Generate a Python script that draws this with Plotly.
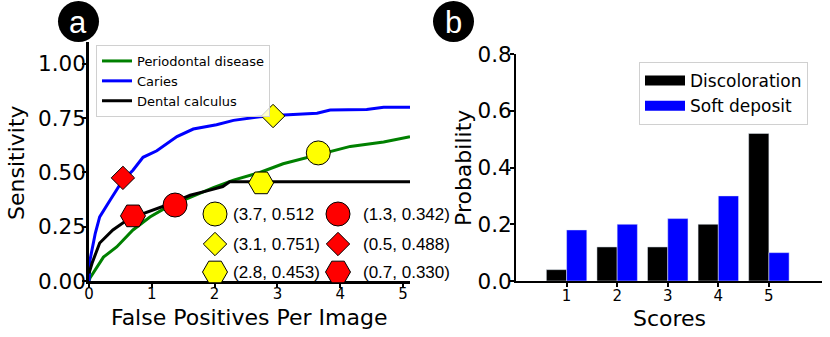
import plotly.graph_objects as go

W, H = 830, 337

# ---------------- data: panel a (FROC-like curves) ----------------
perio_x = [0.0, 0.016, 0.23, 0.44, 0.70, 0.97, 1.24, 1.56, 1.98, 2.30, 2.72, 3.09, 3.63, 4.16, 4.69, 5.11]
perio_y = [0.0, 0.014, 0.11, 0.157, 0.235, 0.295, 0.34, 0.38, 0.43, 0.465, 0.50, 0.54, 0.58, 0.62, 0.64, 0.665]

caries_x = [0.0, 0.016, 0.10, 0.17, 0.33, 0.54, 0.70, 0.86, 1.08, 1.40, 1.66, 2.03, 2.30, 2.72, 3.10, 3.63, 3.84, 4.42, 4.69, 5.11]
caries_y = [0.0, 0.097, 0.22, 0.295, 0.37, 0.465, 0.51, 0.57, 0.60, 0.665, 0.70, 0.72, 0.74, 0.757, 0.765, 0.773, 0.788, 0.79, 0.80, 0.80]

calc_x = [0.0, 0.05, 0.17, 0.38, 0.60, 0.86, 1.24, 1.61, 1.88, 2.13, 2.24, 5.11]
calc_y = [0.035, 0.083, 0.175, 0.235, 0.28, 0.31, 0.35, 0.395, 0.415, 0.435, 0.457, 0.457]

# operating points drawn on the curves
op_x = [3.65, 2.93, 2.74, 1.37, 0.54, 0.70]
op_y = [0.59, 0.76, 0.452, 0.35, 0.475, 0.30]
op_symbols = ["circle", "diamond", "hexagon2", "circle", "diamond", "hexagon2"]
op_colors = ["yellow", "yellow", "yellow", "red", "red", "red"]
op_labels = ["(3.7, 0.512", "(3.1, 0.751)", "(2.8, 0.453)", "(1.3, 0.342)", "(0.5, 0.488)", "(0.7, 0.330)"]

# ---------------- data: panel b ----------------
scores = [1, 2, 3, 4, 5]
discoloration = [0.04, 0.12, 0.12, 0.20, 0.52]
soft_deposit = [0.18, 0.20, 0.22, 0.30, 0.10]

left_yticks = [0, 0.25, 0.5, 0.75, 1.0]
left_xticks = [0, 1, 2, 3, 4, 5]
right_yticks = [0, 0.2, 0.4, 0.6, 0.8]

FONT = "DejaVu Sans"
ARIAL = "Liberation Sans, Arial"

def px(x):
    return x / W

def py(y):
    return 1 - y / H

size_map = {"circle": 24, "diamond": 18, "hexagon2": 25}

fig = go.Figure()

fig.add_trace(go.Scatter(x=perio_x, y=perio_y, mode="lines", name="Periodontal disease",
                         line=dict(color="#008000", width=3), xaxis="x", yaxis="y", legend="legend"))
fig.add_trace(go.Scatter(x=caries_x, y=caries_y, mode="lines", name="Caries",
                         line=dict(color="#0000ff", width=3), xaxis="x", yaxis="y", legend="legend"))
fig.add_trace(go.Scatter(x=calc_x, y=calc_y, mode="lines", name="Dental calculus",
                         line=dict(color="black", width=3), xaxis="x", yaxis="y", legend="legend"))
fig.add_trace(go.Scatter(x=op_x, y=op_y, mode="markers", showlegend=False,
                         marker=dict(symbol=op_symbols, color=op_colors, opacity=1,
                                     size=[size_map[s] for s in op_symbols],
                                     line=dict(color="black", width=1)),
                         xaxis="x", yaxis="y", cliponaxis=False))

bar_colors = {"Discoloration": "black", "Soft deposit": "#0000ff"}
fig.add_trace(go.Bar(x=scores, y=discoloration, name="Discoloration", marker_color=bar_colors["Discoloration"],
                     xaxis="x2", yaxis="y2", showlegend=False))
fig.add_trace(go.Bar(x=scores, y=soft_deposit, name="Soft deposit", marker_color=bar_colors["Soft deposit"],
                     xaxis="x2", yaxis="y2", showlegend=False))
# legend proxies for the bars (wide rectangle patches like the original)
for nm, col in bar_colors.items():
    fig.add_trace(go.Scatter(x=[None], y=[None], mode="lines", name=nm,
                             line=dict(color=col, width=11), xaxis="x2", yaxis="y2", legend="legend2"))

# marker legend (two columns x three rows) drawn on a full-figure pixel overlay axis
col_x = [215, 338]
text_x = [231, 361]
row_y = [214, 244, 272]
leg_x, leg_y, leg_tx = [], [], []
for i in range(len(op_labels)):
    c, r = divmod(i, 3)
    leg_x.append(col_x[c])
    leg_y.append(row_y[r])
    leg_tx.append(text_x[c])
fig.add_trace(go.Scatter(x=leg_x, y=leg_y, mode="markers", showlegend=False,
                         marker=dict(symbol=op_symbols, color=op_colors, opacity=1,
                                     size=[size_map[s] for s in op_symbols],
                                     line=dict(color="black", width=1)),
                         xaxis="x3", yaxis="y3", cliponaxis=False))

annotations = []
for i, lab in enumerate(op_labels):
    annotations.append(dict(x=px(leg_tx[i]), y=py(leg_y[i]), xref="paper", yref="paper",
                            text=lab, showarrow=False, xanchor="left", yanchor="middle",
                            font=dict(family=ARIAL, size=17, color="black")))

def centered(x, y, text, size, family=FONT, color="black", angle=0):
    return dict(x=px(x), y=py(y), xref="paper", yref="paper", text=text, showarrow=False,
                xanchor="center", yanchor="middle", textangle=angle,
                font=dict(family=family, size=size, color=color))

# axis titles and panel letters
annotations += [
    centered(249, 317, "False Positives Per Image", 22),
    centered(17, 163, "Sensitivity", 22, angle=-90),
    centered(669, 318, "Scores", 22),
    centered(463, 168, "Probability", 22, angle=-90),
    centered(78, 22, "a", 31, family=ARIAL, color="white"),
    centered(453, 22, "b", 31, family=ARIAL, color="white"),
]

shapes = [
    dict(type="circle", xref="paper", yref="paper", x0=px(58), x1=px(99), y0=py(1), y1=py(42),
         fillcolor="black", line=dict(color="black", width=0), layer="below"),
    dict(type="circle", xref="paper", yref="paper", x0=px(433), x1=px(474), y0=py(1), y1=py(42),
         fillcolor="black", line=dict(color="black", width=0), layer="below"),
]

axis_common = dict(showgrid=False, zeroline=False, showline=True, linecolor="black",
                   ticks="outside", tickcolor="black", ticklen=4, tickwidth=1.5, automargin=False)

fig.update_layout(
    width=W, height=H,
    margin=dict(l=0, r=0, t=0, b=0, pad=0, autoexpand=False),
    paper_bgcolor="white", plot_bgcolor="rgba(0,0,0,0)",
    font=dict(family=FONT, color="black"),
    barmode="group", bargap=0.2, bargroupgap=0,
    xaxis=dict(domain=[px(89), px(410)], range=[0, 5.11], tickvals=left_xticks,
               tickfont=dict(size=15), linewidth=2.5, anchor="y", ticklabelstandoff=-7, **axis_common),
    yaxis=dict(domain=[py(281), py(42)], range=[0, 1.101], tickvals=left_yticks,
               tickformat=".2f", tickfont=dict(size=21.5), linewidth=2.5, anchor="x",
               ticklabelstandoff=-8, **axis_common),
    xaxis2=dict(domain=[px(516), px(822)], range=[0, 6.05], tickvals=scores,
                tickfont=dict(size=15), linewidth=2, anchor="y2", ticklabelstandoff=-4, **axis_common),
    yaxis2=dict(domain=[py(281), py(54)], range=[0, 0.8], tickvals=right_yticks,
                tickformat=".1f", tickfont=dict(size=21.5), linewidth=2, anchor="x2",
                ticklabelstandoff=-6, **axis_common),
    xaxis3=dict(domain=[0, 1], range=[0, W], visible=False, anchor="y3", fixedrange=True),
    yaxis3=dict(domain=[0, 1], range=[H, 0], visible=False, anchor="x3", fixedrange=True),
    legend=dict(x=px(96), y=py(45), xanchor="left", yanchor="top",
                bgcolor="rgba(255,255,255,0.8)", bordercolor="#d0d0d0", borderwidth=1,
                font=dict(family=FONT, size=13), tracegroupgap=0, itemwidth=30),
    legend2=dict(x=px(639), y=py(62), xanchor="left", yanchor="top",
                 bgcolor="rgba(255,255,255,0.8)", bordercolor="#d0d0d0", borderwidth=1,
                 font=dict(family=FONT, size=17), tracegroupgap=0, itemwidth=40),
    annotations=annotations,
    shapes=shapes,
    showlegend=True,
)

fig.write_html("out.html", config={"displayModeBar": False},
               post_script="document.body.style.margin='0';document.body.style.overflow='hidden';")
